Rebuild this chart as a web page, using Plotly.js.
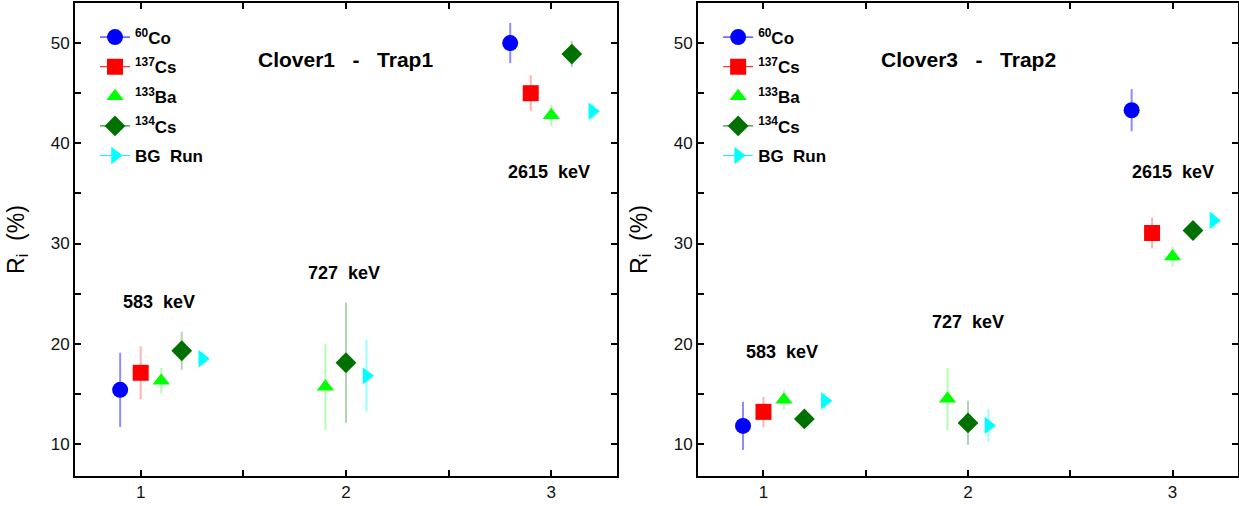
<!DOCTYPE html>
<html><head><meta charset="utf-8">
<script src="https://cdn.plot.ly/plotly-3.0.1.min.js"></script>
<style>html,body{margin:0;padding:0;background:#fff}#chart{width:1239px;height:506px}</style>
</head><body><div id="chart"></div>
<script>
// ---- data ----
const sourceNames = ['<sup>60</sup>Co', '<sup>137</sup>Cs', '<sup>133</sup>Ba', '<sup>134</sup>Cs', 'BG\u00a0\u00a0Run'];
const tickVals = [1, 2, 3];
const tickLabels = ['1', '2', '3'];
const energyLabels = ['583\u00a0\u00a0keV', '727\u00a0\u00a0keV', '2615\u00a0\u00a0keV'];
const panelTitles = ['Clover1\u00a0\u00a0\u00a0-\u00a0\u00a0\u00a0Trap1', 'Clover3\u00a0\u00a0\u00a0-\u00a0\u00a0\u00a0Trap2'];
const yTitle = 'R<sub>i</sub>\u00a0\u00a0(%)';

// Panel 1: Clover1 - Trap1
const co60X1 = [0.9, 2.8],        co60Y1 = [15.4, 50.0],        co60E1 = [3.7, 2.0];
const cs137X1 = [1.0, 2.9],       cs137Y1 = [17.1, 45.0],       cs137E1 = [2.65, 1.8];
const ba133X1 = [1.1, 1.9, 3.0],  ba133Y1 = [16.3, 15.7, 42.8], ba133E1 = [1.3, 4.3, 1.05];
const cs134X1 = [1.2, 2.0, 3.1],  cs134Y1 = [19.3, 18.1, 48.9], cs134E1 = [1.9, 6.0, 1.3];
const bgX1 = [1.3, 2.1, 3.2],     bgY1 = [18.5, 16.8, 43.2],    bgE1 = [0.7, 3.6, 0.8];

// Panel 2: Clover3 - Trap2
const co60X2 = [0.9, 2.8],        co60Y2 = [11.8, 43.3],        co60E2 = [2.4, 2.1];
const cs137X2 = [1.0, 2.9],       cs137Y2 = [13.2, 31.05],      cs137E2 = [1.5, 1.55];
const ba133X2 = [1.1, 1.9, 3.0],  ba133Y2 = [14.4, 14.5, 28.7], ba133E2 = [0.95, 3.1, 1.0];
const cs134X2 = [1.2, 2.0, 3.1],  cs134Y2 = [12.5, 12.1, 31.3], cs134E2 = [0.5, 2.2, 0.7];
const bgX2 = [1.3, 2.1, 3.2],     bgY2 = [14.3, 11.85, 32.3],   bgE2 = [0.8, 1.65, 0.8];

// ---- styles ----
const FONT = 'Liberation Sans, Arial, sans-serif';
const styles = [
  {color: '#0000ff', err: 'rgba(0,0,255,0.45)', symbol: 'circle', size: 16, legLine: true},
  {color: '#ff0000', err: 'rgba(255,0,0,0.3)', symbol: 'square', size: 16, legLine: true},
  {color: '#00ff00', err: 'rgba(0,255,0,0.3)', symbol: 'triangle-up', size: 15, legLine: false},
  {color: '#007000', err: 'rgba(0,112,0,0.3)', symbol: 'diamond', size: 16, legLine: true},
  {color: '#00ffff', err: 'rgba(0,255,255,0.4)', symbol: 'triangle-right', size: 15, legLine: true}
];

const panels = [
  {xs: [co60X1, cs137X1, ba133X1, cs134X1, bgX1], ys: [co60Y1, cs137Y1, ba133Y1, cs134Y1, bgY1], es: [co60E1, cs137E1, ba133E1, cs134E1, bgE1], xa: 'x', ya: 'y', leg: 'legend'},
  {xs: [co60X2, cs137X2, ba133X2, cs134X2, bgX2], ys: [co60Y2, cs137Y2, ba133Y2, cs134Y2, bgY2], es: [co60E2, cs137E2, ba133E2, cs134E2, bgE2], xa: 'x2', ya: 'y2', leg: 'legend2'}
];

const traces = [];
panels.forEach((p, pi) => {
  sourceNames.forEach((name, i) => {
    const s = styles[i];
    traces.push({
      type: 'scatter', mode: 'markers', x: p.xs[i], y: p.ys[i], xaxis: p.xa, yaxis: p.ya,
      showlegend: false, cliponaxis: false,
      marker: {color: s.color, symbol: s.symbol, size: s.size, line: {width: 0}},
      error_y: {type: 'data', array: p.es[i], color: s.err, thickness: 2, width: 0}
    });
  });
  sourceNames.forEach((name, i) => {
    const s = styles[i];
    traces.push({
      type: 'scatter', mode: s.legLine ? 'lines+markers' : 'markers', x: [null], y: [null],
      xaxis: p.xa, yaxis: p.ya, name: name, legend: p.leg, showlegend: true,
      legendgroup: 'p' + pi + 's' + i,
      line: {color: s.color, width: 1},
      marker: {color: s.color, symbol: s.symbol, size: s.size, line: {width: 0}}
    });
  });
});

function xAxis(domain, anchor) {
  return {
    domain: domain, anchor: anchor, range: [0.68, 3.32],
    tickmode: 'array', tickvals: tickVals, ticktext: tickLabels,
    ticks: 'inside', ticklen: 6, tickwidth: 2, tickcolor: '#000',
    minor: {tickmode: 'linear', tick0: 0, dtick: 0.5, ticks: 'inside', ticklen: 6, tickwidth: 2, tickcolor: '#000'},
    showline: true, linewidth: 2, linecolor: '#000', mirror: 'ticks',
    showgrid: false, zeroline: false,
    tickfont: {family: FONT, size: 17, color: '#111'}
  };
}
function yAxis(anchor) {
  return {
    anchor: anchor, range: [6.8, 54.0],
    tickmode: 'linear', tick0: 0, dtick: 10,
    ticks: 'inside', ticklen: 6, tickwidth: 2, tickcolor: '#000',
    minor: {tickmode: 'linear', tick0: 0, dtick: 5, ticks: 'inside', ticklen: 6, tickwidth: 2, tickcolor: '#000'},
    showline: true, linewidth: 2, linecolor: '#000', mirror: 'ticks',
    showgrid: false, zeroline: false,
    tickfont: {family: FONT, size: 17, color: '#111'},
    title: {text: yTitle, font: {family: FONT, size: 23, color: '#000'}, standoff: 20}
  };
}

const legendBase = {
  xanchor: 'left', yanchor: 'top', bgcolor: 'rgba(0,0,0,0)', borderwidth: 0,
  font: {family: FONT, size: 17, color: '#000', weight: 'bold'}, itemwidth: 30, tracegroupgap: 4.5
};

const annFont = {family: FONT, size: 18, color: '#000', weight: 'bold'};
const titleFont = {family: FONT, size: 21, color: '#000', weight: 'bold'};
const annotations = [
  {xref: 'x', yref: 'y', x: 2.0, y: 48.4, text: panelTitles[0], showarrow: false, font: titleFont},
  {xref: 'x2', yref: 'y2', x: 2.0, y: 48.4, text: panelTitles[1], showarrow: false, font: titleFont},
  {xref: 'x', yref: 'y', x: 1.09, y: 24.2, text: energyLabels[0], showarrow: false, font: annFont},
  {xref: 'x', yref: 'y', x: 1.99, y: 27.1, text: energyLabels[1], showarrow: false, font: annFont},
  {xref: 'x', yref: 'y', x: 2.99, y: 37.1, text: energyLabels[2], showarrow: false, font: annFont},
  {xref: 'x2', yref: 'y2', x: 1.09, y: 19.2, text: energyLabels[0], showarrow: false, font: annFont},
  {xref: 'x2', yref: 'y2', x: 2.0, y: 22.2, text: energyLabels[1], showarrow: false, font: annFont},
  {xref: 'x2', yref: 'y2', x: 3.0, y: 37.1, text: energyLabels[2], showarrow: false, font: annFont}
];

const layout = {
  width: 1239, height: 506,
  margin: {l: 75, r: 1, t: 3, b: 30},
  paper_bgcolor: '#fff', plot_bgcolor: '#fff',
  font: {family: FONT},
  xaxis: xAxis([0, 0.466], 'y'),
  yaxis: yAxis('x'),
  xaxis2: xAxis([0.5357, 1], 'y2'),
  yaxis2: yAxis('x2'),
  legend: Object.assign({x: 0.0172, y: 0.965}, legendBase),
  legend2: Object.assign({x: 0.553, y: 0.965}, legendBase),
  annotations: annotations
};

Plotly.newPlot('chart', traces, layout, {displayModeBar: false, staticPlot: true});
</script></body></html>
